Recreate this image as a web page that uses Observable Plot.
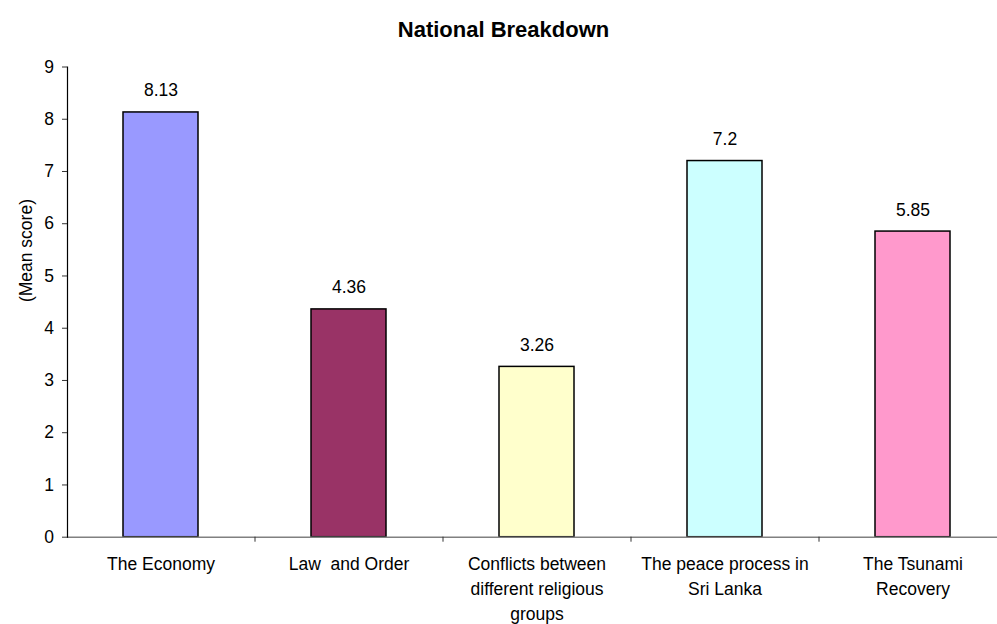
<!DOCTYPE html>
<html>
<head>
<meta charset="utf-8">
<script src="https://cdn.jsdelivr.net/npm/d3@7"></script>
<script src="https://cdn.jsdelivr.net/npm/@observablehq/plot@0.6"></script>
<style>
  html, body { margin: 0; padding: 0; background: #fff; }
  #chart svg { display: block; }
</style>
</head>
<body>
<div id="chart"></div>
<script>
const title = "National Breakdown";
const yLabel = "(Mean score)";
const categories = [
  "The Economy",
  "Law and Order",
  "Conflicts between different religious groups",
  "The peace process in Sri Lanka",
  "The Tsunami Recovery"
];
const tickLabels = [
  "The Economy",
  "Law  and Order",
  "Conflicts between\ndifferent religious\ngroups",
  "The peace process in\nSri Lanka",
  "The Tsunami\nRecovery"
];
const values = [8.13, 4.36, 3.26, 7.2, 5.85];
const valueLabels = ["8.13", "4.36", "3.26", "7.2", "5.85"];
const colors = ["#9999FF", "#993366", "#FFFFCC", "#CCFFFF", "#FF99CC"];
const yTicks = [0, 1, 2, 3, 4, 5, 6, 7, 8, 9];

const data = categories.map((c, i) => ({cat: c, val: values[i], label: valueLabels[i], color: colors[i]}));
const labelOf = new Map(categories.map((c, i) => [c, tickLabels[i]]));

const font = "'Liberation Sans', Arial, Helvetica, sans-serif";

const chart = Plot.plot({
  width: 997,
  height: 624,
  marginLeft: 67,
  marginRight: 0,
  marginTop: 66.5,
  marginBottom: 87.3,
  style: {fontFamily: font, fontSize: "17.5px", color: "#000", background: "#fff"},
  x: {domain: categories, range: [67, 1007], paddingInner: 0.6, paddingOuter: 0.3},
  y: {domain: [0, 9]},
  color: {type: "identity"},
  marks: [
    Plot.barY(data, {x: "cat", y: "val", fill: "color", stroke: "#000", strokeWidth: 1.5}),
    Plot.ruleY([0], {stroke: "#808080", strokeWidth: 1.5}),
    Plot.frame({anchor: "left", stroke: "#000", strokeWidth: 1.2}),
    Plot.axisY({ticks: yTicks, tickSize: 5, tickPadding: 8.5, label: null, fontSize: 17.5, stroke: "#333"}),
    Plot.axisX({ticks: categories.slice(0, 4), tickSize: 5, text: null, label: null, dx: 94, stroke: "#333"}),
    Plot.axisX({tickSize: 0, tickPadding: 15, label: null, lineWidth: 100, lineHeight: 1.43, fontSize: 17.5, tickFormat: d => labelOf.get(d)}),
    Plot.text(data, {x: "cat", y: "val", text: "label", dy: -21.6, fontSize: 17.5, fill: "#000"}),
    Plot.text([yLabel], {frameAnchor: "left", rotate: -90, dx: -41, fontSize: 17.5, fill: "#000"}),
    Plot.text([title], {frameAnchor: "top", dx: -29, dy: -45.8, fontSize: 22, fontWeight: "bold", fill: "#000"})
  ]
});
document.getElementById("chart").appendChild(chart);
</script>
</body>
</html>
